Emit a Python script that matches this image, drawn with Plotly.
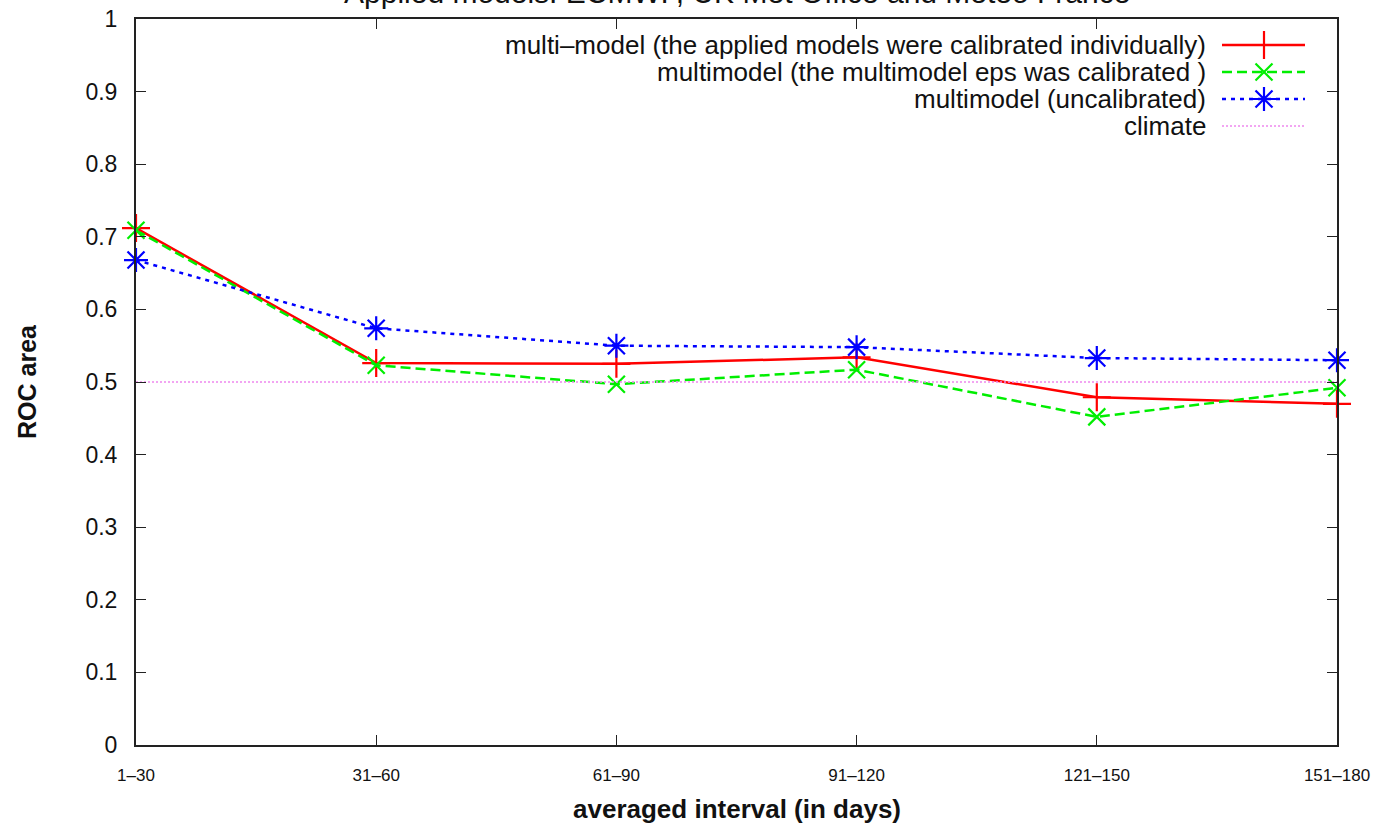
import plotly.graph_objects as go

# ROC area per averaging interval
intervals = ["1\u201330", "31\u201360", "61\u201390", "91\u2013120", "121\u2013150", "151\u2013180"]
calibrated_individually = [0.712, 0.526, 0.525, 0.534, 0.479, 0.470]
calibrated_eps = [0.709, 0.523, 0.497, 0.517, 0.452, 0.492]
uncalibrated = [0.668, 0.574, 0.550, 0.548, 0.533, 0.530]
climate = [0.5, 0.5, 0.5, 0.5, 0.5, 0.5]

names = [
    "multi\u2013model (the applied models were calibrated individually)",
    "multimodel (the multimodel eps was calibrated )",
    "multimodel (uncalibrated)",
    "climate",
]
y_ticks = [0, 0.1, 0.2, 0.3, 0.4, 0.5, 0.6, 0.7, 0.8, 0.9, 1]

FONT = "Liberation Sans, Arial, Helvetica, sans-serif"
W, H = 1374, 825
ML, MR, MT, MB = 136, 37, 19, 80
PW, PH = W - ML - MR, H - MT - MB

styles = [
    dict(color="#ff0000", dash="solid", width=2.5, symbol="cross-thin-open", size=20),
    dict(color="#00ee00", dash="10px,5px", width=2.5, symbol="x-thin-open", size=17),
    dict(color="#0000ff", dash="4px,5px", width=2.5, symbol="asterisk-open", size=20),
    dict(color="#ee88ee", dash="2px,2px", width=1.5, symbol=None, size=0),
]
series = [calibrated_individually, calibrated_eps, uncalibrated, climate]

fig = go.Figure()
for vals, st, nm in zip(series, styles, names):
    fig.add_trace(go.Scatter(
        x=intervals, y=vals, name=nm,
        mode="lines+markers" if st["symbol"] else "lines",
        line=dict(color=st["color"], dash=st["dash"], width=st["width"]),
        marker=dict(symbol=st["symbol"] or "circle", size=st["size"], color=st["color"],
                    line=dict(color=st["color"], width=2.2)),
        cliponaxis=False, showlegend=False,
    ))


def px_x(px):
    return (px - ML) / PW


def px_y(py):
    return (H - MB - py) / PH


# key: text right-aligned with the line sample to its right
key_rows = [45, 72, 99, 126]
for nm, st, row in zip(names, styles, key_rows):
    fig.add_annotation(xref="paper", yref="paper", x=px_x(1207), y=px_y(row),
                       text=nm, showarrow=False, xanchor="right", yanchor="middle",
                       borderpad=0, font=dict(family=FONT, size=26, color="#111"))
    fig.add_trace(go.Scatter(
        x=[px_x(1222), px_x(1305)], y=[px_y(row)] * 2, xaxis="x2", yaxis="y2",
        mode="lines", line=dict(color=st["color"], dash=st["dash"], width=st["width"]),
        showlegend=False, hoverinfo="skip", cliponaxis=False,
    ))
    if st["symbol"]:
        fig.add_trace(go.Scatter(
            x=[px_x(1264)], y=[px_y(row)], xaxis="x2", yaxis="y2", mode="markers",
            marker=dict(symbol=st["symbol"], size=st["size"], color=st["color"],
                        line=dict(color=st["color"], width=2.2)),
            showlegend=False, hoverinfo="skip", cliponaxis=False,
        ))

# title, partly above the page edge
fig.add_annotation(xref="paper", yref="paper", x=0.5, y=px_y(-7),
                   text="Applied models: ECMWF, UK Met Office and Meteo France",
                   showarrow=False, xanchor="center", yanchor="middle",
                   font=dict(family=FONT, size=30, color="#111"))
# axis titles
fig.add_annotation(xref="paper", yref="paper", x=0.5, y=px_y(809),
                   text="<b>averaged interval (in days)</b>", showarrow=False,
                   xanchor="center", yanchor="middle",
                   font=dict(family=FONT, size=26, color="#111"))
fig.add_annotation(xref="paper", yref="paper", x=px_x(27), y=px_y(382),
                   text="<b>ROC area</b>", showarrow=False, textangle=-90,
                   xanchor="center", yanchor="middle",
                   font=dict(family=FONT, size=25, color="#111"))

axis_common = dict(showgrid=False, zeroline=False, showline=True, linecolor="#222",
                   linewidth=2, mirror="ticks", ticks="inside", ticklen=10,
                   tickwidth=1.2, tickcolor="#222", automargin=False)

fig.update_layout(
    width=W, height=H,
    margin=dict(l=ML, r=MR, t=MT, b=MB, autoexpand=False),
    paper_bgcolor="white", plot_bgcolor="white",
    xaxis=dict(type="category", range=[0, 5], tickvals=intervals, ticktext=intervals,
               tickfont=dict(family=FONT, size=17, color="#111"),
               ticklabelstandoff=14, **axis_common),
    yaxis=dict(range=[0, 1], tickvals=y_ticks,
               tickfont=dict(family=FONT, size=23, color="#111"),
               ticklabelstandoff=12, **axis_common),
    xaxis2=dict(overlaying="x", range=[0, 1], visible=False),
    yaxis2=dict(overlaying="y", range=[0, 1], visible=False),
    showlegend=False,
)

fig.write_html("out.html")
